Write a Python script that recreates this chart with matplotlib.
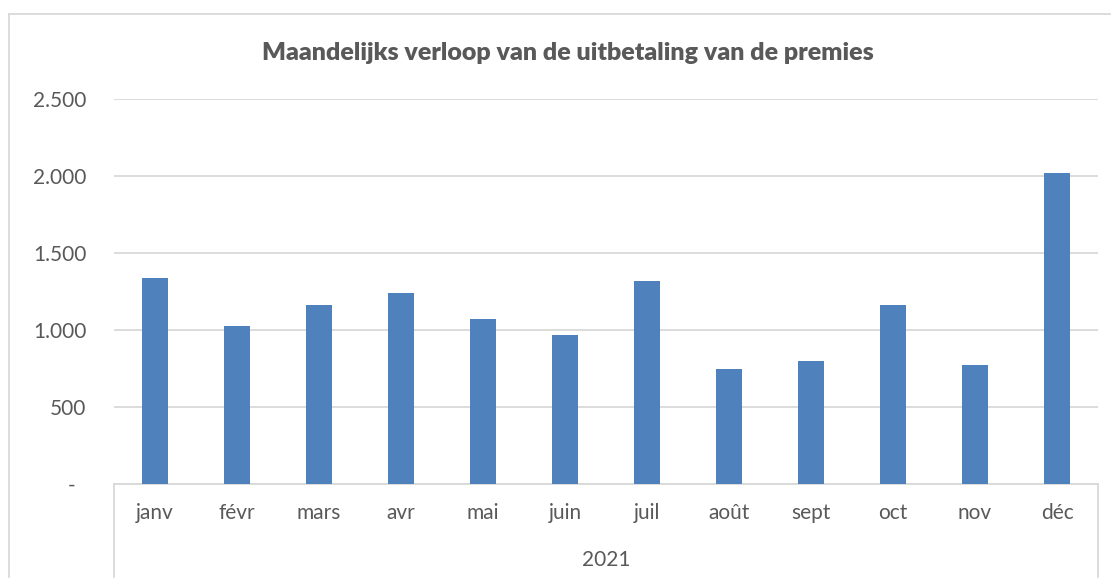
import numpy as np
import matplotlib
matplotlib.use("Agg")
import matplotlib.pyplot as plt
from matplotlib.lines import Line2D
from matplotlib.ticker import FuncFormatter

months = ["janv", "févr", "mars", "avr", "mai", "juin",
          "juil", "août", "sept", "oct", "nov", "déc"]
premies = [1335, 1027, 1164, 1242, 1074, 968,
           1318, 750, 796, 1161, 774, 2020]
year_label = "2021"
title = "Maandelijks verloop van de uitbetaling van de premies"
y_ticks = [0, 500, 1000, 1500, 2000, 2500]

bar_color = "#4F81BD"
grid_color = "#D9D9D9"
text_color = "#595959"

plt.rcParams["font.family"] = ["Lato", "DejaVu Sans"]

W, H = 1111, 581
fig = plt.figure(figsize=(W / 100, H / 100), dpi=100)

# plot area in pixel coords
left, right, top, bottom = 114, 1098, 99, 484
ax = fig.add_axes([left / W, 1 - bottom / H, (right - left) / W, (bottom - top) / H])

x = np.arange(len(months))
ax.bar(x, premies, width=0.317, color=bar_color, zorder=3)
ax.set_xlim(-0.5, len(months) - 0.5)
ax.set_ylim(0, 2500)

ax.set_yticks(y_ticks)
ax.yaxis.set_major_formatter(FuncFormatter(
    lambda v, p: "-  " if v == 0 else f"{int(v):,}".replace(",", ".")))
ax.grid(axis="y", color=grid_color, linewidth=1.3, zorder=0)
ax.tick_params(axis="y", length=0, pad=20, labelsize=15, labelcolor=text_color)

ax.set_xticks(x)
ax.set_xticklabels(months)
ax.tick_params(axis="x", length=0, pad=14, labelsize=15, labelcolor=text_color)

for s in ["top", "right", "left"]:
    ax.spines[s].set_visible(False)
ax.spines["bottom"].set_color(grid_color)
ax.spines["bottom"].set_linewidth(1.3)

# category box under the axis
depth = (577 - bottom) / (bottom - top)
for xa in (0, 1):
    ax.add_line(Line2D([xa, xa], [0, -depth], transform=ax.transAxes,
                       color=grid_color, linewidth=1.3, clip_on=False))
ax.text(0.5, -(560 - bottom) / (bottom - top), year_label, transform=ax.transAxes,
        ha="center", va="center", fontsize=15, color=text_color)

fig.text(0.5 * (264 + 872) / W, 1 - 53 / H, title, ha="center", va="center",
         fontsize=18, fontweight="heavy", color=text_color)

# outer chart frame (cut by image edge)
fig.add_artist(Line2D([9 / W, 1.0], [1 - 14 / H, 1 - 14 / H], transform=fig.transFigure,
                      color=grid_color, linewidth=1.3))
fig.add_artist(Line2D([9 / W, 9 / W], [1 - 14 / H, 1 - 577 / H], transform=fig.transFigure,
                      color=grid_color, linewidth=1.3))

fig.savefig("out.png", dpi=100)
